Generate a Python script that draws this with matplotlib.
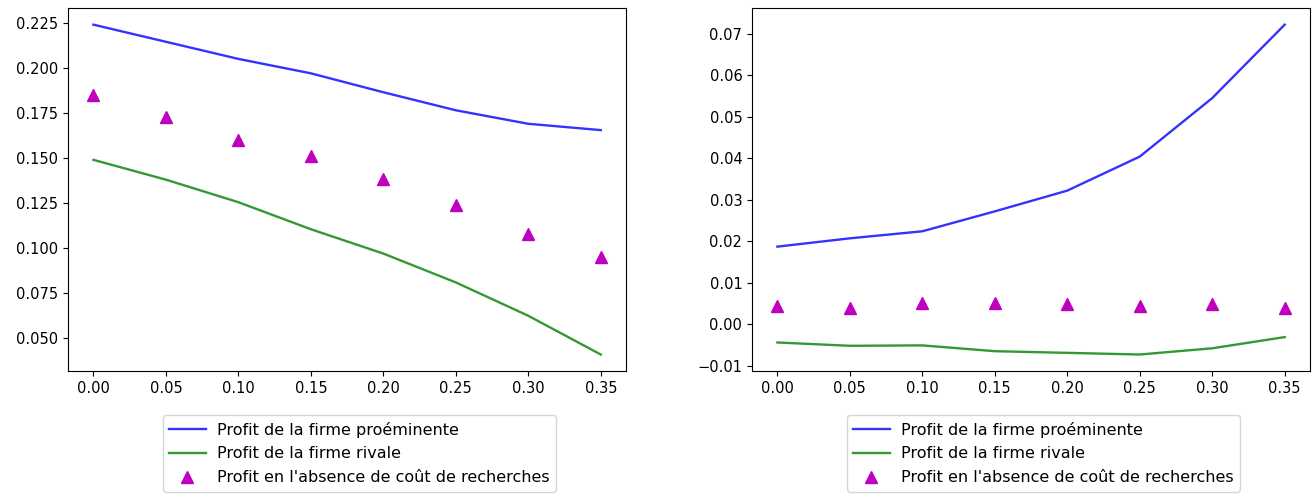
import matplotlib
matplotlib.use("Agg")
import matplotlib.pyplot as plt

# cout de recherche
couts = [0.00, 0.05, 0.10, 0.15, 0.20, 0.25, 0.30, 0.35]

# premier scenario
proem_1 = [0.224, 0.2145, 0.205, 0.197, 0.1865, 0.1765, 0.169, 0.1655]
rivale_1 = [0.149, 0.138, 0.1255, 0.1105, 0.097, 0.081, 0.0625, 0.041]
sans_cout_1 = [0.185, 0.173, 0.160, 0.151, 0.1385, 0.124, 0.108, 0.095]

# second scenario
proem_2 = [0.0187, 0.0207, 0.0224, 0.0272, 0.0322, 0.0404, 0.0545, 0.0722]
rivale_2 = [-0.0044, -0.0052, -0.0051, -0.0065, -0.0069, -0.0073, -0.0058, -0.0031]
sans_cout_2 = [0.0045, 0.0040, 0.0052, 0.0052, 0.0048, 0.0044, 0.0048, 0.0040]

labels = ["Profit de la firme proéminente",
          "Profit de la firme rivale",
          "Profit en l'absence de coût de recherches"]

plt.rcParams['font.size'] = 10.5

fig = plt.figure(figsize=(13.14, 4.95), dpi=100)
ax1 = fig.add_axes([0.0518, 0.2505, 0.4247, 0.733])
ax2 = fig.add_axes([0.5723, 0.2505, 0.4247, 0.733])

for ax, p, r, s in [(ax1, proem_1, rivale_1, sans_cout_1),
                    (ax2, proem_2, rivale_2, sans_cout_2)]:
    ax.plot(couts, p, color='b', alpha=0.8, linewidth=1.7, label=labels[0])
    ax.plot(couts, r, color='g', alpha=0.8, linewidth=1.7, label=labels[1])
    ax.plot(couts, s, 'm^', markersize=8, linestyle='none', label=labels[2])
    ax.legend(loc='upper center', bbox_to_anchor=(0.522, -0.1), fontsize=11.5,
              borderpad=0.4, labelspacing=0.55, handlelength=2.3,
              handletextpad=0.7)

plt.savefig("out.png", dpi=100)
